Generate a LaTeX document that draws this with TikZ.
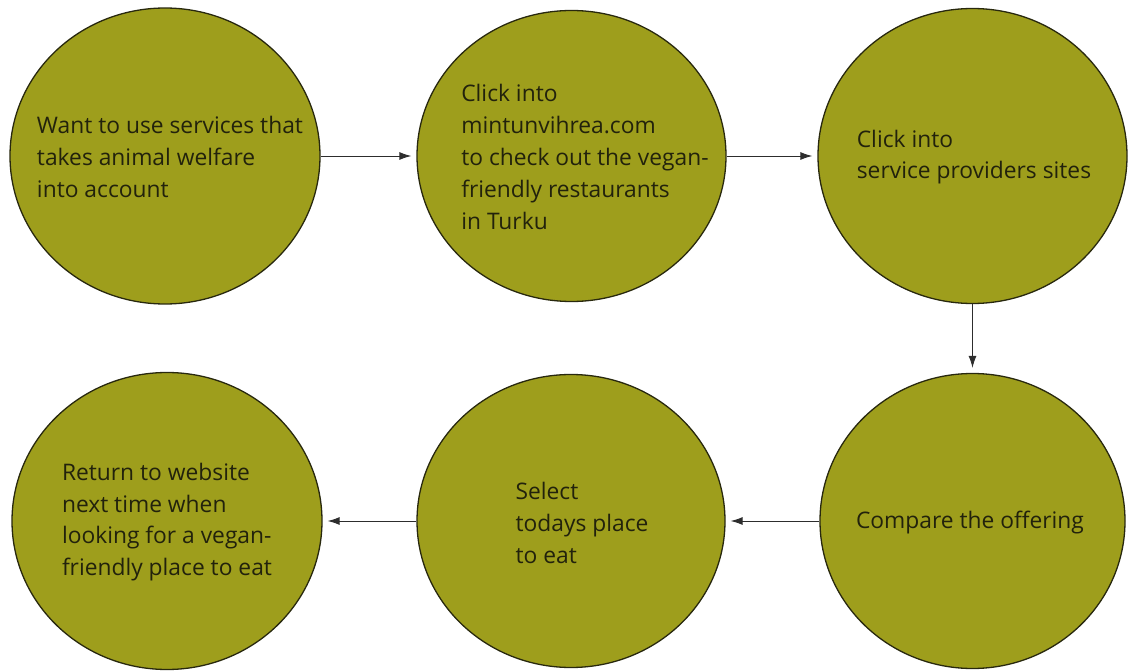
\documentclass[tikz,border=0pt]{standalone}
\usepackage{fontspec}
\setmainfont{Open Sans}
\usetikzlibrary{shapes.geometric,arrows.meta}
\definecolor{olivefill}{RGB}{158,158,28}
\definecolor{olivedark}{RGB}{40,40,14}
\definecolor{textdark}{RGB}{34,34,12}
\definecolor{arrowgray}{RGB}{45,45,45}
\begin{document}
\begin{tikzpicture}[x=1pt,y=-1pt,
  stepcircle/.style={ellipse,draw=olivedark,line width=1.3pt,fill=olivefill,inner sep=0pt},
  steptext/.style={align=left,text=textdark,font=\fontsize{22.8}{31.8}\selectfont,inner sep=0pt},
  flow/.style={draw=arrowgray,line width=0.9pt,-{Latex[length=12pt,width=8pt]},shorten >=5pt}]
  \useasboundingbox (0,0) rectangle (1128,671);

  % step outlines
  \node[stepcircle,minimum width=310pt,minimum height=296pt] (s1) at (165,156) {};
  \node[stepcircle,minimum width=309pt,minimum height=291pt] (s2) at (571.5,156) {};
  \node[stepcircle,minimum width=309pt,minimum height=295pt] (s3) at (972.5,156) {};
  \node[stepcircle,minimum width=310pt,minimum height=297pt] (s4) at (167,521) {};
  \node[stepcircle,minimum width=308pt,minimum height=293pt] (s5) at (571,521) {};
  \node[stepcircle,minimum width=305pt,minimum height=295pt] (s6) at (972.5,521) {};

  % step texts
  \node[steptext] (t1) at (170,157) {Want to use services that\\takes animal welfare\\into account};
  \node[steptext] (t2) at (585,157) {Click into\\mintunvihrea.com\\to check out the vegan-\\friendly restaurants\\in Turku};
  \node[steptext] (t3) at (974,157) {Click into\\service providers sites};
  \node[steptext] (t4) at (167,522) {Return to website\\next time when\\looking for a vegan-\\friendly place to eat};
  \node[steptext] (t5) at (582,523) {Select\\todays place\\to eat};
  \node[steptext] (t6) at (970,523) {Compare the offering};

  % flow between steps
  \draw[flow] (s1) -- (s2);
  \draw[flow] (s2) -- (s3);
  \draw[flow] (s3) -- (s6);
  \draw[flow] (s6) -- (s5);
  \draw[flow] (s5) -- (s4);
\end{tikzpicture}
\end{document}
